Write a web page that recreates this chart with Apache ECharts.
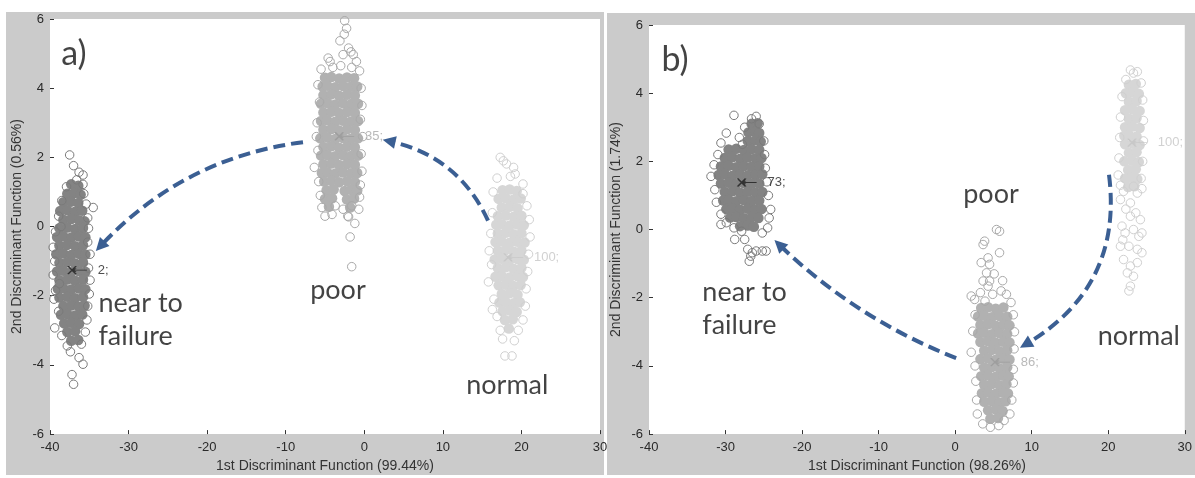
<!DOCTYPE html>
<html>
<head>
<meta charset="utf-8">
<title>Discriminant function scores</title>
<script src="https://cdn.jsdelivr.net/npm/echarts@6/dist/echarts.min.js"></script>
<style>
  html, body { margin: 0; padding: 0; background: #ffffff; }
  #chart { width: 1195px; height: 478px; }
</style>
</head>
<body>
<div id="chart"></div>
<script>
// 坐标轴刻度
const xTicks = [-40, -30, -20, -10, 0, 10, 20, 30];
const yTicks = [-6, -4, -2, 0, 2, 4, 6];
const xNames = ['1st Discriminant Function (99.44%)', '1st Discriminant Function (98.26%)'];
const yNames = ['2nd Discriminant Function (0.56%)', '2nd Discriminant Function (1.74%)'];

// ---- a) near to failure ----
const aNearCore = [
  [-37.3,1.22],[-36.4,1.18],
  [-37.8,0.95],[-36.9,0.97],[-36.1,0.92],
  [-38.3,0.7],[-37.3,0.72],[-36.4,0.68],
  [-38.7,0.45],[-37.8,0.47],[-36.8,0.43],[-35.9,0.46],
  [-38.3,0.2],[-37.3,0.22],[-36.3,0.18],[-35.6,0.15],
  [-38.8,-0.05],[-37.8,-0.03],[-36.8,-0.07],[-35.8,-0.04],
  [-39.1,-0.3],[-38.3,-0.28],[-37.3,-0.32],[-36.3,-0.29],[-35.5,-0.31],
  [-38.8,-0.55],[-37.8,-0.53],[-36.8,-0.57],[-35.8,-0.54],
  [-39.2,-0.8],[-38.3,-0.78],[-37.3,-0.82],[-36.3,-0.79],[-35.5,-0.81],
  [-38.8,-1.05],[-37.8,-1.03],[-36.8,-1.07],[-35.8,-1.04],
  [-39.1,-1.3],[-38.3,-1.28],[-37.3,-1.32],[-36.3,-1.29],[-35.5,-1.31],
  [-38.8,-1.55],[-37.8,-1.53],[-36.8,-1.57],[-35.8,-1.54],
  [-39.0,-1.8],[-38.3,-1.78],[-37.3,-1.82],[-36.3,-1.79],[-35.5,-1.81],
  [-38.8,-2.05],[-37.8,-2.03],[-36.8,-2.07],[-35.8,-2.04],
  [-38.3,-2.3],[-37.3,-2.28],[-36.3,-2.32],[-35.6,-2.29],
  [-38.6,-2.55],[-37.8,-2.53],[-36.8,-2.57],[-35.9,-2.54],
  [-38.2,-2.8],[-37.3,-2.78],[-36.3,-2.82],
  [-37.8,-3.05],[-36.8,-3.03],
  [-37.3,-3.3],[-36.4,-3.28]
];
const aNearEdge = [
  [-37.5,2.07],[-37.0,1.76],[-36.3,1.57],[-35.8,1.49],[-36.6,1.35],[-35.8,1.22],[-37.9,1.15],
  [-35.7,0.95],[-38.5,0.75],[-35.4,0.65],[-34.5,0.55],[-38.9,0.3],[-35.2,0.25],[-38.6,0.0],
  [-35.1,-0.05],[-39.3,-0.15],[-35.2,-0.45],[-39.6,-0.6],[-34.9,-0.8],[-39.4,-1.0],[-35.1,-1.2],
  [-39.6,-1.4],[-34.9,-1.55],[-38.8,-1.65],[-39.3,-1.85],[-35.0,-1.95],[-39.5,-2.1],[-35.2,-2.3],
  [-38.9,-2.45],[-35.3,-2.7],[-39.4,-2.93],[-38.5,-3.15],[-35.5,-3.05],[-37.8,-3.45],[-36.0,-3.4],
  [-37.4,-3.62],[-36.3,-3.79],[-35.8,-3.98],[-37.2,-4.28],[-37.0,-4.56]
];

// ---- a) poor ----
const aPoorCore = [
  [-5.0,4.3],[-4.2,4.32],[-3.2,4.28],[-2.2,4.31],[-1.3,4.29],
  [-5.3,4.05],[-4.7,4.07],[-3.7,4.03],[-2.7,4.06],[-1.7,4.04],[-0.9,4.05],
  [-5.2,3.8],[-4.2,3.82],[-3.2,3.78],[-2.2,3.81],[-1.2,3.79],
  [-5.5,3.55],[-4.7,3.57],[-3.7,3.53],[-2.7,3.56],[-1.7,3.54],[-0.8,3.55],
  [-5.2,3.3],[-4.2,3.32],[-3.2,3.28],[-2.2,3.31],[-1.2,3.29],
  [-5.5,3.05],[-4.7,3.07],[-3.7,3.03],[-2.7,3.06],[-1.7,3.04],[-0.8,3.05],
  [-5.2,2.8],[-4.2,2.82],[-3.2,2.78],[-2.2,2.81],[-1.2,2.79],
  [-5.6,2.55],[-4.7,2.57],[-3.7,2.53],[-2.7,2.56],[-1.7,2.54],[-0.8,2.55],
  [-5.2,2.3],[-4.2,2.32],[-3.2,2.28],[-2.2,2.31],[-1.2,2.29],
  [-5.5,2.05],[-4.7,2.07],[-3.7,2.03],[-2.7,2.06],[-1.7,2.04],[-0.8,2.05],
  [-5.2,1.8],[-4.2,1.82],[-3.2,1.78],[-2.2,1.81],[-1.2,1.79],
  [-5.4,1.55],[-4.7,1.57],[-3.7,1.53],[-2.7,1.56],[-1.7,1.54],[-0.9,1.55],
  [-5.1,1.3],[-4.2,1.32],[-3.2,1.28],[-2.2,1.31],[-1.2,1.29],
  [-4.8,1.05],[-3.9,1.07],[-2.5,1.03],[-1.7,1.06],[-0.9,1.04],
  [-5.0,0.8],[-4.1,0.82],[-2.2,0.78],[-1.3,0.81],
  [-4.5,0.57],[-1.8,0.55]
];
const aPoorEdge = [
  [-2.5,5.95],[-2.25,5.73],[-2.55,5.56],[-3.1,5.37],[-2.0,5.16],[-4.6,4.87],[-4.35,4.77],
  [-2.7,4.97],[-1.4,4.97],[-1.0,4.77],[-1.7,5.05],[-5.5,4.55],[-4.0,4.6],[-3.0,4.65],
  [-1.6,4.6],[-0.6,4.5],[-5.9,4.1],[-0.4,4.0],[-5.7,3.6],[-0.3,3.5],[-6.0,3.0],[-0.5,3.1],
  [-6.1,2.6],[-0.2,2.6],[-5.9,2.2],[-0.4,2.1],[-6.36,1.71],[-0.3,1.6],[-5.8,1.3],[-0.5,1.2],
  [-5.6,0.9],[-0.6,0.85],[-5.4,0.55],[-3.7,0.6],[-2.7,0.5],[-0.7,0.5],[-5.0,0.3],[-4.1,0.35],
  [-2.1,0.3],[-1.2,0.09],[-2.0,0.28],[-1.6,0.6],[-1.8,-0.3],[-1.6,-1.16]
];

// ---- a) normal ----
const aNormalCore = [
  [17.6,1.05],[18.5,1.07],[19.4,1.03],
  [17.1,0.8],[18.0,0.82],[19.0,0.78],[19.9,0.81],
  [17.5,0.55],[18.5,0.57],[19.5,0.53],
  [17.0,0.3],[18.0,0.32],[19.0,0.28],[20.0,0.31],
  [16.8,0.05],[17.5,0.07],[18.5,0.03],[19.5,0.06],[20.3,0.04],
  [17.0,-0.2],[18.0,-0.18],[19.0,-0.22],[20.0,-0.19],
  [16.7,-0.45],[17.5,-0.43],[18.5,-0.47],[19.5,-0.44],[20.4,-0.46],
  [17.0,-0.7],[18.0,-0.68],[19.0,-0.72],[20.0,-0.69],
  [16.6,-0.95],[17.5,-0.93],[18.5,-0.97],[19.5,-0.94],[20.3,-0.96],
  [17.0,-1.2],[18.0,-1.18],[19.0,-1.22],[20.0,-1.19],
  [16.7,-1.45],[17.5,-1.43],[18.5,-1.47],[19.5,-1.44],[20.2,-1.46],
  [17.1,-1.7],[18.0,-1.68],[19.0,-1.72],[19.9,-1.69],
  [17.5,-1.95],[18.5,-1.93],[19.5,-1.97],
  [17.2,-2.2],[18.0,-2.18],[19.0,-2.22],[19.8,-2.19],
  [17.6,-2.45],[18.5,-2.43],[19.4,-2.47],
  [17.9,-2.7],[18.9,-2.68],
  [18.4,-2.95]
];
const aNormalEdge = [
  [17.3,2.0],[17.7,1.9],[18.1,1.81],[19.0,1.71],[19.2,1.52],[20.2,1.23],[20.2,0.95],[16.9,1.4],
  [18.6,1.45],[16.4,1.0],[20.7,0.6],[16.3,0.4],[21.0,0.2],[16.1,-0.2],[21.1,-0.3],[15.9,-0.7],
  [20.9,-0.8],[16.2,-1.1],[20.8,-1.3],[15.8,-1.6],[20.6,-1.8],[16.5,-2.1],[20.5,-2.3],[16.9,-2.6],
  [20.2,-2.7],[17.3,-3.0],[19.6,-3.0],[17.6,-3.25],[19.1,-3.3],[17.9,-3.74],[18.8,-3.74],[16.3,-2.4]
];

// ---- b) near to failure ----
const bNearCore = [
  [-26.6,3.1],[-25.8,3.12],
  [-27.0,2.85],[-26.1,2.87],[-25.6,2.83],
  [-27.1,2.6],[-26.1,2.62],[-25.4,2.58],
  [-29.6,2.35],[-28.6,2.37],[-27.6,2.33],[-26.6,2.36],[-25.6,2.34],
  [-30.1,2.1],[-29.1,2.12],[-28.1,2.08],[-27.1,2.11],[-26.1,2.09],[-25.3,2.1],
  [-30.6,1.85],[-29.6,1.87],[-28.6,1.83],[-27.6,1.86],[-26.6,1.84],[-25.6,1.85],
  [-30.9,1.6],[-30.1,1.62],[-29.1,1.58],[-28.1,1.61],[-27.1,1.59],[-26.1,1.6],[-25.2,1.62],
  [-30.6,1.35],[-29.6,1.37],[-28.6,1.33],[-27.6,1.36],[-26.6,1.34],[-25.6,1.35],
  [-30.1,1.1],[-29.1,1.12],[-28.1,1.08],[-27.1,1.11],[-26.1,1.09],[-25.2,1.1],
  [-30.3,0.85],[-29.6,0.87],[-28.6,0.83],[-27.6,0.86],[-26.6,0.84],[-25.6,0.85],
  [-29.9,0.6],[-29.1,0.62],[-28.1,0.58],[-27.1,0.61],[-26.1,0.59],[-25.3,0.6],
  [-29.4,0.35],[-28.6,0.37],[-27.6,0.33],[-26.6,0.36],[-25.7,0.34],
  [-28.1,0.1],[-27.1,0.12],[-26.3,0.08]
];
const bNearEdge = [
  [-28.9,3.35],[-26.0,3.32],[-26.6,3.25],[-25.6,3.1],[-27.5,3.0],[-29.9,2.83],[-28.2,2.7],
  [-27.8,2.5],[-30.6,2.54],[-25.0,2.6],[-31.0,2.2],[-24.9,2.2],[-31.5,1.9],[-24.8,1.8],
  [-31.9,1.56],[-24.6,1.4],[-31.4,1.17],[-24.4,1.0],[-31.2,0.8],[-24.1,0.59],[-24.3,0.34],
  [-30.6,0.45],[-30.6,0.15],[-29.9,0.2],[-24.5,0.05],[-25.2,-0.1],[-28.8,-0.29],[-27.5,-0.29],
  [-27.1,-0.58],[-26.5,-0.68],[-26.0,-0.63],[-25.2,-0.63],[-24.7,-0.63],[-26.9,-0.93],
  [-26.7,-0.78],[-28.9,0.05],[-27.9,-0.05]
];

// ---- b) poor ----
const bPoorCore = [
  [3.4,-2.3],[4.3,-2.28],[5.3,-2.32],[6.3,-2.29],
  [3.0,-2.55],[3.8,-2.53],[4.8,-2.57],[5.8,-2.54],[6.8,-2.56],
  [3.3,-2.8],[4.3,-2.78],[5.3,-2.82],[6.3,-2.79],[7.1,-2.81],
  [3.0,-3.05],[3.8,-3.03],[4.8,-3.07],[5.8,-3.04],[6.8,-3.06],
  [3.3,-3.3],[4.3,-3.28],[5.3,-3.32],[6.3,-3.29],[7.1,-3.31],
  [3.8,-3.55],[4.8,-3.53],[5.8,-3.57],[6.8,-3.54],
  [3.3,-3.8],[4.3,-3.78],[5.3,-3.82],[6.3,-3.79],[7.1,-3.81],
  [3.8,-4.05],[4.8,-4.03],[5.8,-4.07],[6.8,-4.04],
  [3.4,-4.3],[4.3,-4.28],[5.3,-4.32],[6.3,-4.29],[7.0,-4.31],
  [3.8,-4.55],[4.8,-4.53],[5.8,-4.57],[6.7,-4.54],
  [3.5,-4.8],[4.3,-4.78],[5.3,-4.82],[6.3,-4.79],[6.9,-4.81],
  [3.8,-5.05],[4.8,-5.03],[5.8,-5.07],[6.6,-5.04],
  [4.3,-5.3],[5.3,-5.28],[6.2,-5.32],
  [4.6,-5.55],[5.6,-5.53]
];
const bPoorEdge = [
  [5.4,0.0],[5.8,-0.05],[3.85,-0.34],[3.65,-0.44],[5.8,-0.68],[4.3,-0.83],[4.5,-1.02],[3.4,-0.97],
  [4.1,-1.27],[3.65,-1.51],[4.5,-1.51],[4.3,-1.66],[2.1,-1.95],[2.55,-2.05],[6.0,-1.8],[6.7,-1.9],
  [7.3,-2.14],[4.9,-1.9],[3.3,-1.85],[2.6,-2.5],[7.6,-2.5],[2.3,-2.98],[7.75,-3.0],[2.1,-3.6],
  [7.7,-3.5],[2.6,-4.0],[7.6,-4.1],[2.7,-4.45],[7.6,-4.5],[2.8,-5.0],[7.4,-5.0],[2.9,-5.41],
  [7.15,-5.41],[3.6,-5.7],[4.6,-5.8],[5.7,-5.75],[6.4,-5.6],[3.9,-2.1],[6.2,-1.5],[5.1,-1.3]
];

// ---- b) normal ----
const bNormalCore = [
  [22.7,4.25],[23.6,4.27],
  [22.3,4.0],[23.2,4.02],[24.0,3.98],
  [22.7,3.75],[23.7,3.77],
  [22.2,3.5],[23.2,3.52],[24.1,3.48],
  [22.7,3.25],[23.7,3.27],
  [22.2,3.0],[23.2,3.02],[24.1,2.98],
  [22.1,2.75],[22.7,2.77],[23.7,2.73],
  [22.2,2.5],[23.2,2.52],[24.1,2.48],
  [22.7,2.25],[23.7,2.27],
  [22.1,2.0],[23.1,2.02],[24.0,1.98],
  [22.6,1.75],[23.6,1.77],
  [22.2,1.5],[23.1,1.52],[23.8,1.48],
  [22.6,1.25],[23.4,1.27]
];
const bNormalEdge = [
  [22.9,4.68],[23.3,4.59],[23.8,4.63],[22.3,4.4],[24.3,4.3],[21.8,3.9],[24.5,3.8],[21.6,3.3],
  [24.6,3.2],[21.5,2.7],[24.6,2.6],[21.4,2.1],[24.5,2.0],[21.3,1.6],[24.3,1.5],[21.6,1.3],
  [24.4,1.2],[22.0,1.12],[23.3,1.27],[23.8,1.07],[21.6,0.88],[22.9,0.78],[22.9,0.39],[23.6,0.49],
  [24.2,0.29],[21.8,0.1],[22.2,-0.1],[23.3,0.0],[24.0,-0.2],[24.4,-0.1],[21.6,-0.49],[22.7,-0.49],
  [23.8,-0.58],[24.4,-0.68],[22.0,-0.88],[22.9,-1.07],[23.8,-0.97],[22.5,-1.27],[23.3,-1.37],
  [22.9,-1.66],[22.7,-1.8],[22.3,0.6],[21.9,-0.3]
];

// 组质心和标签
const aCentroids = [[-37.2,-1.26],[-3.2,2.61],[18.3,-0.89]];
const bCentroids = [[-27.9,1.38],[5.2,-3.89],[23.1,2.55]];
const centroidLabels = [['2;','35;','100;'], ['73;','86;','100;']];

// 箭头（起点、终点、弯曲度）
const aArrows = [[[-7.8,2.44],[-33.6,-0.57],-0.18],[[15.75,0.17],[3.15,2.47],-0.25]];
const bArrows = [[[0.13,-3.77],[-23.0,-0.44],0.1],[[20.1,1.61],[9.2,-3.37],0.33]];

// 文字注释
const aNotes = [[-36.95,5.0,'a)'],[-33.9,-2.7,'near to\nfailure'],[-3.35,-1.84,'poor'],[18.2,-4.6,'normal']];
const bNotes = [[-36.6,4.98,'b)'],[-33.1,-2.31,'near to\nfailure'],[4.68,1.02,'poor'],[24.0,-3.13,'normal']];

// 颜色
const coreColors = ['#838383', '#b1b1b1', '#d6d6d6'];
const groupColors = ['#7a7a7a', '#a9a9a9', '#d0d0d0'];
const crossColors = ['#1e1e1e', '#9a9a9a', '#c4c4c4'];
const labelColors = ['#222222', '#a8a8a8', '#c6c6c6'];
const arrowColor = '#3b5f93';
const panelGray = '#cbcbcb';

const myChart = echarts.init(document.getElementById('chart'));

const crossPath = 'path://M0,0L8,8M0,8L8,0M4,4L19,4M4,4L8,2.4M4,4L8,5.6';

const clusterSeries = (idx, core, edge, g) => [
  {
    type: 'scatter', xAxisIndex: idx, yAxisIndex: idx, data: core,
    symbolSize: 10.5, itemStyle: { color: coreColors[g], opacity: 1 }, silent: true
  },
  {
    type: 'scatter', xAxisIndex: idx, yAxisIndex: idx, data: edge,
    symbolSize: 8.5, itemStyle: { color: 'rgba(0,0,0,0)', borderColor: groupColors[g], borderWidth: 1, opacity: 1 }, silent: true
  }
];

const centroidSeries = (idx, pts, labels) => ({
  type: 'scatter', xAxisIndex: idx, yAxisIndex: idx, z: 6, silent: true,
  symbol: crossPath, symbolSize: [19, 8], symbolOffset: [5.5, 0],
  data: pts.map((p, i) => ({
    value: p, name: labels[i],
    itemStyle: { color: 'none', borderColor: crossColors[i], borderWidth: 1.2 },
    label: { color: labelColors[i] }
  })),
  label: {
    show: true, position: 'right', distance: 7, formatter: '{b}',
    fontFamily: 'Liberation Sans', fontSize: 13
  }
});

const arrowSeries = (idx, arrows) => ({
  type: 'lines', coordinateSystem: 'cartesian2d', xAxisIndex: idx, yAxisIndex: idx, z: 5, silent: true,
  symbol: ['none', 'triangle'], symbolSize: [14, 13],
  data: arrows.map(a => ({ coords: [a[0], a[1]], lineStyle: { curveness: a[2] } })),
  lineStyle: { color: arrowColor, width: 4, type: [12, 6], opacity: 1 },
  itemStyle: { color: arrowColor }
});

const noteSeries = (idx, notes) => ({
  type: 'scatter', xAxisIndex: idx, yAxisIndex: idx, z: 7, silent: true,
  symbolSize: 1, itemStyle: { color: 'rgba(0,0,0,0)' },
  data: notes.map(n => {
    const multi = n[2].indexOf('\n') >= 0;
    const big = n[2].length === 2;
    return {
      value: [n[0], n[1]], name: n[2],
      label: {
        position: multi ? 'right' : 'inside', distance: 0,
        align: multi ? 'left' : 'center',
        fontSize: big ? 34 : 27, lineHeight: 33
      }
    };
  }),
  label: { show: true, formatter: '{b}', color: '#141414', fontFamily: 'Lato' }
});

const axisText = { color: '#2a2a2a', fontFamily: 'Liberation Sans', fontSize: 13 };

const makeX = (idx) => ({
  gridIndex: idx, type: 'value', min: xTicks[0], max: xTicks[xTicks.length - 1], interval: 10,
  name: xNames[idx], nameLocation: 'middle', nameGap: 24,
  nameTextStyle: { color: '#333', fontFamily: 'Liberation Sans', fontSize: 14 },
  axisLine: { show: false, onZero: false },
  axisTick: { show: true, inside: true, length: 4, lineStyle: { color: '#333' } },
  axisLabel: Object.assign({ margin: 7 }, axisText),
  splitLine: { show: false }
});

const makeY = (idx) => ({
  gridIndex: idx, type: 'value', min: yTicks[0], max: yTicks[yTicks.length - 1], interval: 2,
  name: yNames[idx], nameLocation: 'middle', nameGap: 26, nameRotate: 90,
  nameTextStyle: { color: '#333', fontFamily: 'Liberation Sans', fontSize: 14 },
  axisLine: { show: false, onZero: false },
  axisTick: { show: true, inside: true, length: 4, lineStyle: { color: '#333' } },
  axisLabel: Object.assign({ margin: 6 }, axisText),
  splitLine: { show: false }
});

const option = {
  backgroundColor: '#ffffff',
  animation: false,
  graphic: [
    { type: 'rect', z: -10, silent: true, shape: { x: 6, y: 12, width: 598, height: 463 }, style: { fill: panelGray } },
    { type: 'rect', z: -10, silent: true, shape: { x: 607, y: 13, width: 588, height: 462 }, style: { fill: panelGray } }
  ],
  grid: [
    { left: 50, top: 19, width: 550, height: 418, show: true, backgroundColor: '#ffffff', borderWidth: 0 },
    { left: 649, top: 25, width: 539, height: 410, show: true, backgroundColor: '#ffffff', borderWidth: 0 }
  ],
  xAxis: [makeX(0), makeX(1)],
  yAxis: [makeY(0), makeY(1)],
  series: [
    ...clusterSeries(0, aNormalCore, aNormalEdge, 2),
    ...clusterSeries(0, aPoorCore, aPoorEdge, 1),
    ...clusterSeries(0, aNearCore, aNearEdge, 0),
    ...clusterSeries(1, bNormalCore, bNormalEdge, 2),
    ...clusterSeries(1, bPoorCore, bPoorEdge, 1),
    ...clusterSeries(1, bNearCore, bNearEdge, 0),
    centroidSeries(0, aCentroids, centroidLabels[0]),
    centroidSeries(1, bCentroids, centroidLabels[1]),
    arrowSeries(0, aArrows),
    arrowSeries(1, bArrows),
    noteSeries(0, aNotes),
    noteSeries(1, bNotes)
  ]
};

myChart.setOption(option);
</script>
</body>
</html>
